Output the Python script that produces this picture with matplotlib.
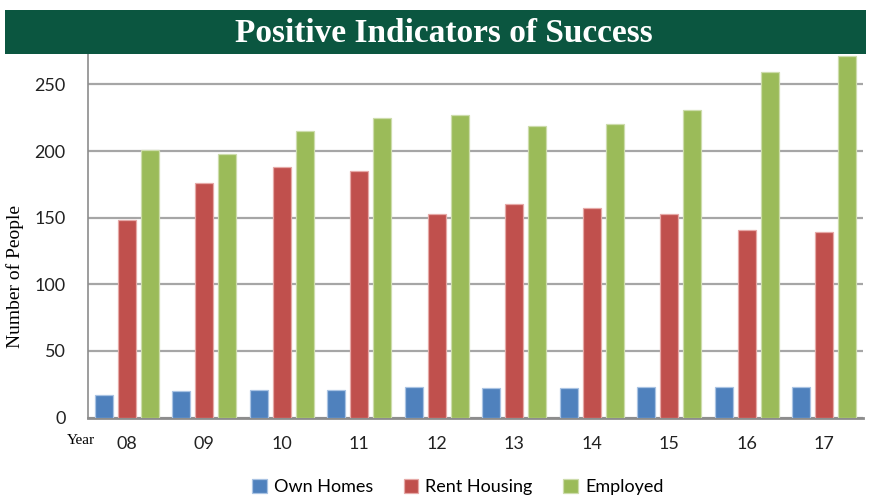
import numpy as np
import matplotlib.pyplot as plt
from matplotlib.patches import Rectangle

years = ["08", "09", "10", "11", "12", "13", "14", "15", "16", "17"]
own_homes = [17, 20, 21, 21, 23, 22, 22, 23, 23, 23]
rent_housing = [148, 176, 188, 185, 153, 160, 157, 153, 141, 139]
employed = [201, 198, 215, 225, 227, 219, 220, 231, 259, 271]

series = [
    ("Own Homes", own_homes, "#4f81bd", "#a9c3e3"),
    ("Rent Housing", rent_housing, "#c0504d", "#e6a9a7"),
    ("Employed", employed, "#9bbb59", "#cddcac"),
]

sans = ["Lato", "DejaVu Sans"]
serif = ["Liberation Serif", "DejaVu Serif"]

fig = plt.figure(figsize=(8.82, 4.96), dpi=100)
ax = fig.add_axes([0.0998, 0.158, 0.8787, 0.739])

x = np.arange(len(years))
step = 0.297
width = 0.235
for i, (name, vals, color, edge) in enumerate(series):
    ax.bar(x + (i - 1) * step, vals, width, color=color, edgecolor=edge,
           linewidth=0.9, label=name, zorder=3)

ax.set_xlim(-0.5, len(years) - 0.5)
ax.set_ylim(0, 275)
ax.set_yticks([0, 50, 100, 150, 200, 250])
ax.yaxis.grid(True, color="#a6a6a6", linewidth=1.6, zorder=0)
ax.set_axisbelow(True)

for side in ["top", "right"]:
    ax.spines[side].set_visible(False)
ax.spines["left"].set_color("#8c8c8c")
ax.spines["left"].set_linewidth(1.2)
ax.spines["bottom"].set_color("#8c8c8c")
ax.spines["bottom"].set_linewidth(2)

ax.set_xticks(x)
ax.set_xticklabels(years, fontfamily=sans, fontsize=13, color="#222222")
ax.tick_params(axis="y", length=0, pad=16, labelsize=13, labelcolor="#222222")
ax.tick_params(axis="x", length=0, pad=13)
for lab in ax.get_yticklabels():
    lab.set_fontfamily(sans)

ax.set_ylabel("Number of People", fontfamily=serif, fontsize=14)
ax.yaxis.set_label_coords(-0.083, 0.384)
fig.text(0.076, 0.111, "Year", fontfamily=serif, fontsize=11, ha="left", va="center")

# dark green title banner across the top
banner = Rectangle((0.0057, 0.891), 0.976, 0.089, transform=fig.transFigure,
                   facecolor="#0b5640", edgecolor="none", zorder=10)
fig.patches.append(banner)
fig.text(0.503, 0.933, "Positive Indicators of Success", fontfamily=serif,
         fontweight="bold", fontsize=24, color="white", ha="center",
         va="center", zorder=11)

fig.legend(loc="center", bbox_to_anchor=(0.519, 0.018), ncol=3, frameon=False,
           prop={"family": sans, "size": 13}, handlelength=0.8,
           handleheight=0.8, handletextpad=0.4, columnspacing=1.7)

fig.savefig("out.png", dpi=100)
